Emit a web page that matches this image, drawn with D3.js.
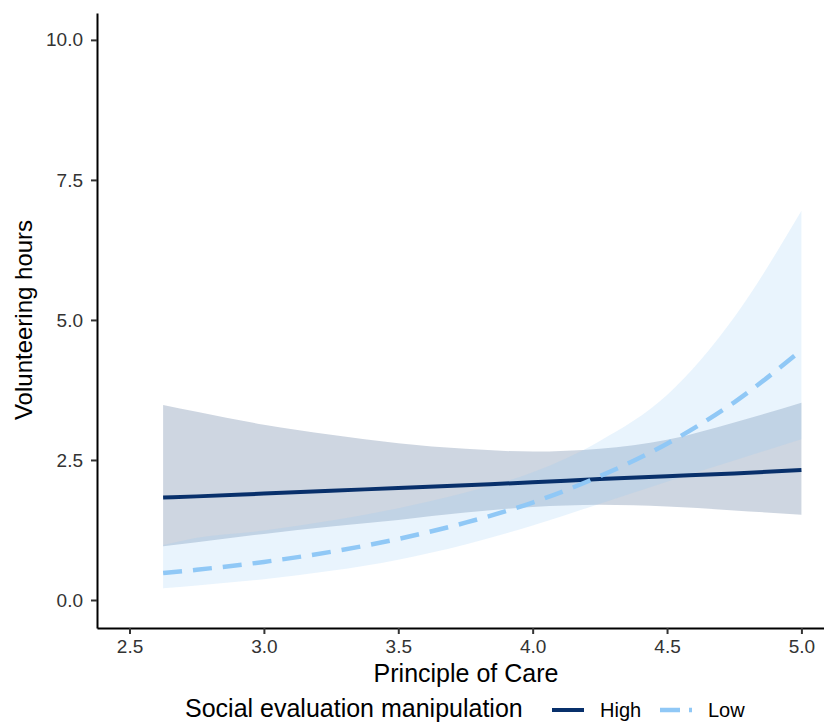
<!DOCTYPE html>
<html>
<head>
<meta charset="utf-8">
<script src="https://cdn.jsdelivr.net/npm/d3@7"></script>
<style>
  body { margin: 0; background: #fff; }
  text { font-family: "Liberation Sans", Arial, sans-serif; }
</style>
</head>
<body>
<svg id="chart" width="824" height="723"></svg>
<script>
// Principle of Care values where the fitted curves were read
const careX = [2.625, 2.75, 3.0, 3.25, 3.5, 3.75, 4.0, 4.25, 4.5, 4.75, 5.0];

// High social evaluation: fit and confidence band
const highFit   = [1.83, 1.85, 1.90, 1.95, 2.00, 2.05, 2.10, 2.16, 2.21, 2.26, 2.32];
const highLower = [0.96, 1.03, 1.18, 1.31, 1.43, 1.56, 1.66, 1.70, 1.67, 1.60, 1.52];
const highUpper = [3.48, 3.36, 3.13, 2.95, 2.80, 2.70, 2.65, 2.70, 2.86, 3.17, 3.52];

// Low social evaluation: fit and confidence band
const lowFit   = [0.48, 0.54, 0.68, 0.86, 1.09, 1.38, 1.74, 2.21, 2.79, 3.53, 4.46];
const lowLower = [0.21, 0.26, 0.37, 0.52, 0.72, 0.99, 1.33, 1.72, 2.11, 2.49, 2.87];
const lowUpper = [0.98, 1.11, 1.24, 1.42, 1.64, 1.92, 2.28, 2.84, 3.66, 5.05, 6.95];

const xTicks = [2.5, 3.0, 3.5, 4.0, 4.5, 5.0];
const yTicks = [0, 2.5, 5.0, 7.5, 10.0];
const groups = ["High", "Low"];

const COLORS = { High: "#08306b", Low: "#90c8f6" };

const svg = d3.select("#chart");

// scales (left axis at 97px, bottom axis at 628px)
const x = d3.scaleLinear().domain([2.379, 5.084]).range([97, 824]);
const y = d3.scaleLinear().domain([-0.5, 10.48]).range([628, 13]);

const series = [
  { key: "High", fit: highFit, lo: highLower, hi: highUpper, dash: null, width: 4 },
  { key: "Low",  fit: lowFit,  lo: lowLower,  hi: lowUpper,  dash: "19,11", width: 4.5 }
];

const area = d3.area()
  .x((d) => x(d.x))
  .y0((d) => y(d.lo))
  .y1((d) => y(d.hi))
  .curve(d3.curveMonotoneX);

const line = d3.line()
  .x((d) => x(d.x))
  .y((d) => y(d.v))
  .curve(d3.curveMonotoneX);

// bands first, so both lines sit on top
const bandG = svg.append("g");
series.forEach((s) => {
  const pts = careX.map((cx, i) => ({ x: cx, lo: s.lo[i], hi: s.hi[i] }));
  bandG.append("path")
    .datum(pts)
    .attr("d", area)
    .attr("fill", COLORS[s.key])
    .attr("fill-opacity", 0.2);
});

const lineG = svg.append("g");
series.forEach((s) => {
  const pts = careX.map((cx, i) => ({ x: cx, v: s.fit[i] }));
  lineG.append("path")
    .datum(pts)
    .attr("d", line)
    .attr("fill", "none")
    .attr("stroke", COLORS[s.key])
    .attr("stroke-width", s.width)
    .attr("stroke-dasharray", s.dash);
});

// axes
const xAxis = svg.append("g")
  .attr("transform", "translate(0,628)")
  .call(d3.axisBottom(x).tickValues(xTicks).tickFormat(d3.format(".1f")).tickSizeOuter(0).tickSizeInner(6).tickPadding(6));

const yAxis = svg.append("g")
  .attr("transform", "translate(97,0)")
  .call(d3.axisLeft(y).tickValues(yTicks).tickFormat(d3.format(".1f")).tickSizeOuter(0).tickSizeInner(6).tickPadding(8));

[xAxis, yAxis].forEach((ax) => {
  ax.select(".domain").attr("stroke", "#000").attr("stroke-width", 2);
  ax.selectAll(".tick line").attr("stroke", "#333").attr("stroke-width", 2);
  ax.selectAll(".tick text")
    .attr("fill", "#333")
    .style("font-size", "19px")
    .style("font-family", '"Liberation Sans", Arial, sans-serif');
});

// axis titles
svg.append("text")
  .attr("x", 466)
  .attr("y", 682)
  .attr("text-anchor", "middle")
  .style("font-size", "25px")
  .attr("fill", "#000")
  .text("Principle of Care");

svg.append("text")
  .attr("transform", "translate(32,320) rotate(-90)")
  .attr("text-anchor", "middle")
  .style("font-size", "24px")
  .attr("fill", "#000")
  .text("Volunteering hours");

// legend
const legend = svg.append("g");
legend.append("text")
  .attr("x", 185)
  .attr("y", 717)
  .style("font-size", "25px")
  .attr("fill", "#000")
  .text("Social evaluation manipulation");

const legendX = { High: 552, Low: 660 };
groups.forEach((g) => {
  const s = series.find((d) => d.key === g);
  legend.append("line")
    .attr("x1", legendX[g])
    .attr("x2", legendX[g] + 32)
    .attr("y1", 710)
    .attr("y2", 710)
    .attr("stroke", COLORS[g])
    .attr("stroke-width", s.width)
    .attr("stroke-dasharray", s.dash ? "20,9" : null);
  legend.append("text")
    .attr("x", legendX[g] + 48)
    .attr("y", 717)
    .style("font-size", "20px")
    .attr("fill", "#000")
    .text(g);
});
</script>
</body>
</html>
